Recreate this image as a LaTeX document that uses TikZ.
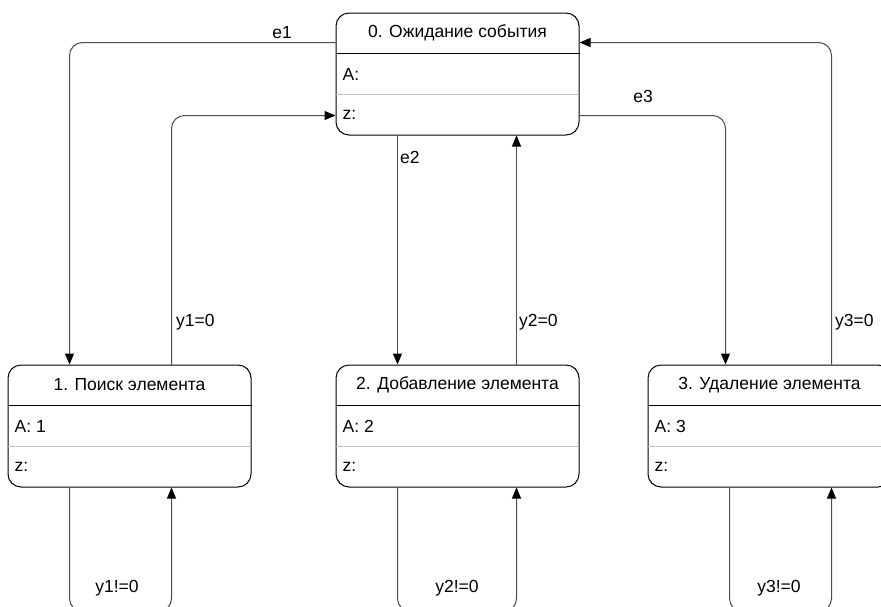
\documentclass[tikz,border=0pt]{standalone}
\usepackage{fontspec}
\setmainfont{Liberation Sans}
\usetikzlibrary{calc,arrows.meta}

\begin{document}
\begin{tikzpicture}[x=1pt,y=-1pt,
  every node/.style={font=\fontsize{17.5}{20}\selectfont, inner sep=0pt},
  statebox/.style={draw=black, line width=1pt, rounded corners=13pt,
    minimum width=243pt, minimum height=122pt, fill=white},
  headrule/.style={draw=black, line width=1pt},
  rowrule/.style={draw=black!25, line width=1pt},
  edge/.style={draw=black!70, line width=1pt, rounded corners=13pt,
    -{Triangle[length=11pt,width=9pt,color=black]}},
  lbl/.style={text=black}
]
\clip (0,0) rectangle (881,606);
\fill[white] (0,0) rectangle (881,606);

% state boxes
\node[statebox] (s0) at (457.5,74) {};
\node[statebox] (s1) at (129.5,426) {};
\node[statebox] (s2) at (457.5,426) {};
\node[statebox] (s3) at (769.5,426) {};

% compartments, titles and rows of each state
\foreach \s/\title/\act in {s0/{0. Ожидание события}/{A:},
                            s1/{1. Поиск элемента}/{A: 1},
                            s2/{2. Добавление элемента}/{A: 2},
                            s3/{3. Удаление элемента}/{A: 3}} {
  \draw[headrule] ($(\s.north west)+(0,41)$) -- ($(\s.north east)+(0,41)$);
  \draw[rowrule] ($(\s.north west)+(0.5,82)$) -- ($(\s.north east)+(-0.5,82)$);
  \node (\s-title) at ($(\s.north)+(0,20.5)$) {\title};
  \node[anchor=west] (\s-act) at ($(\s.north west)+(7,61.5)$) {\act};
  \node[anchor=west] (\s-z) at ($(\s.north west)+(7,102.5)$) {z:};
}

% connector end points on the boxes
\coordinate (e1a) at ($(s0.north west)+(0,30)$);
\coordinate (e1b) at ($(s1.north west)+(62,0)$);
\coordinate (y1a) at ($(s1.north west)+(164,0)$);
\coordinate (y1b) at ($(s0.north west)+(0,103)$);
\coordinate (e2a) at ($(s0.south west)+(62,0)$);
\coordinate (e2b) at ($(s2.north west)+(62,0)$);
\coordinate (y2a) at ($(s2.north west)+(181,0)$);
\coordinate (y2b) at ($(s0.south west)+(181,0)$);
\coordinate (e3a) at ($(s0.north east)+(0,103)$);
\coordinate (e3b) at ($(s3.north west)+(78,0)$);
\coordinate (y3a) at ($(s3.north west)+(184,0)$);
\coordinate (y3b) at ($(s0.north east)+(0,30)$);

% transitions
\draw[edge] (e1a) -| (e1b);
\draw[edge] (y1a) |- (y1b);
\draw[edge] (e2a) -- (e2b);
\draw[edge] (y2a) -- (y2b);
\draw[edge] (e3a) -| (e3b);
\draw[edge] (y3a) |- (y3b);

% self loops below the states
\foreach \s/\l/\r in {s1/62/164, s2/62/181, s3/82/184} {
  \coordinate (\s-la) at ($(\s.south west)+(\l,0)$);
  \coordinate (\s-lb) at ($(\s.south west)+(\r,0)$);
  \draw[edge] (\s-la) -- ++(0,124) -| (\s-lb);
}

% transition labels
\node[lbl] (le1) at (282,33) {e1};
\node[lbl,anchor=west] (ly1) at (176,322) {y1=0};
\node[lbl,anchor=west] (le2) at (400,157) {e2};
\node[lbl,anchor=west] (ly2) at (519,322) {y2=0};
\node[lbl] (le3) at (643,96) {e3};
\node[lbl,anchor=west] (ly3) at (835,322) {y3=0};
\node[lbl] (ly1n) at (117,588) {y1!=0};
\node[lbl] (ly2n) at (457,588) {y2!=0};
\node[lbl] (ly3n) at (779,588) {y3!=0};
\end{tikzpicture}
\end{document}
